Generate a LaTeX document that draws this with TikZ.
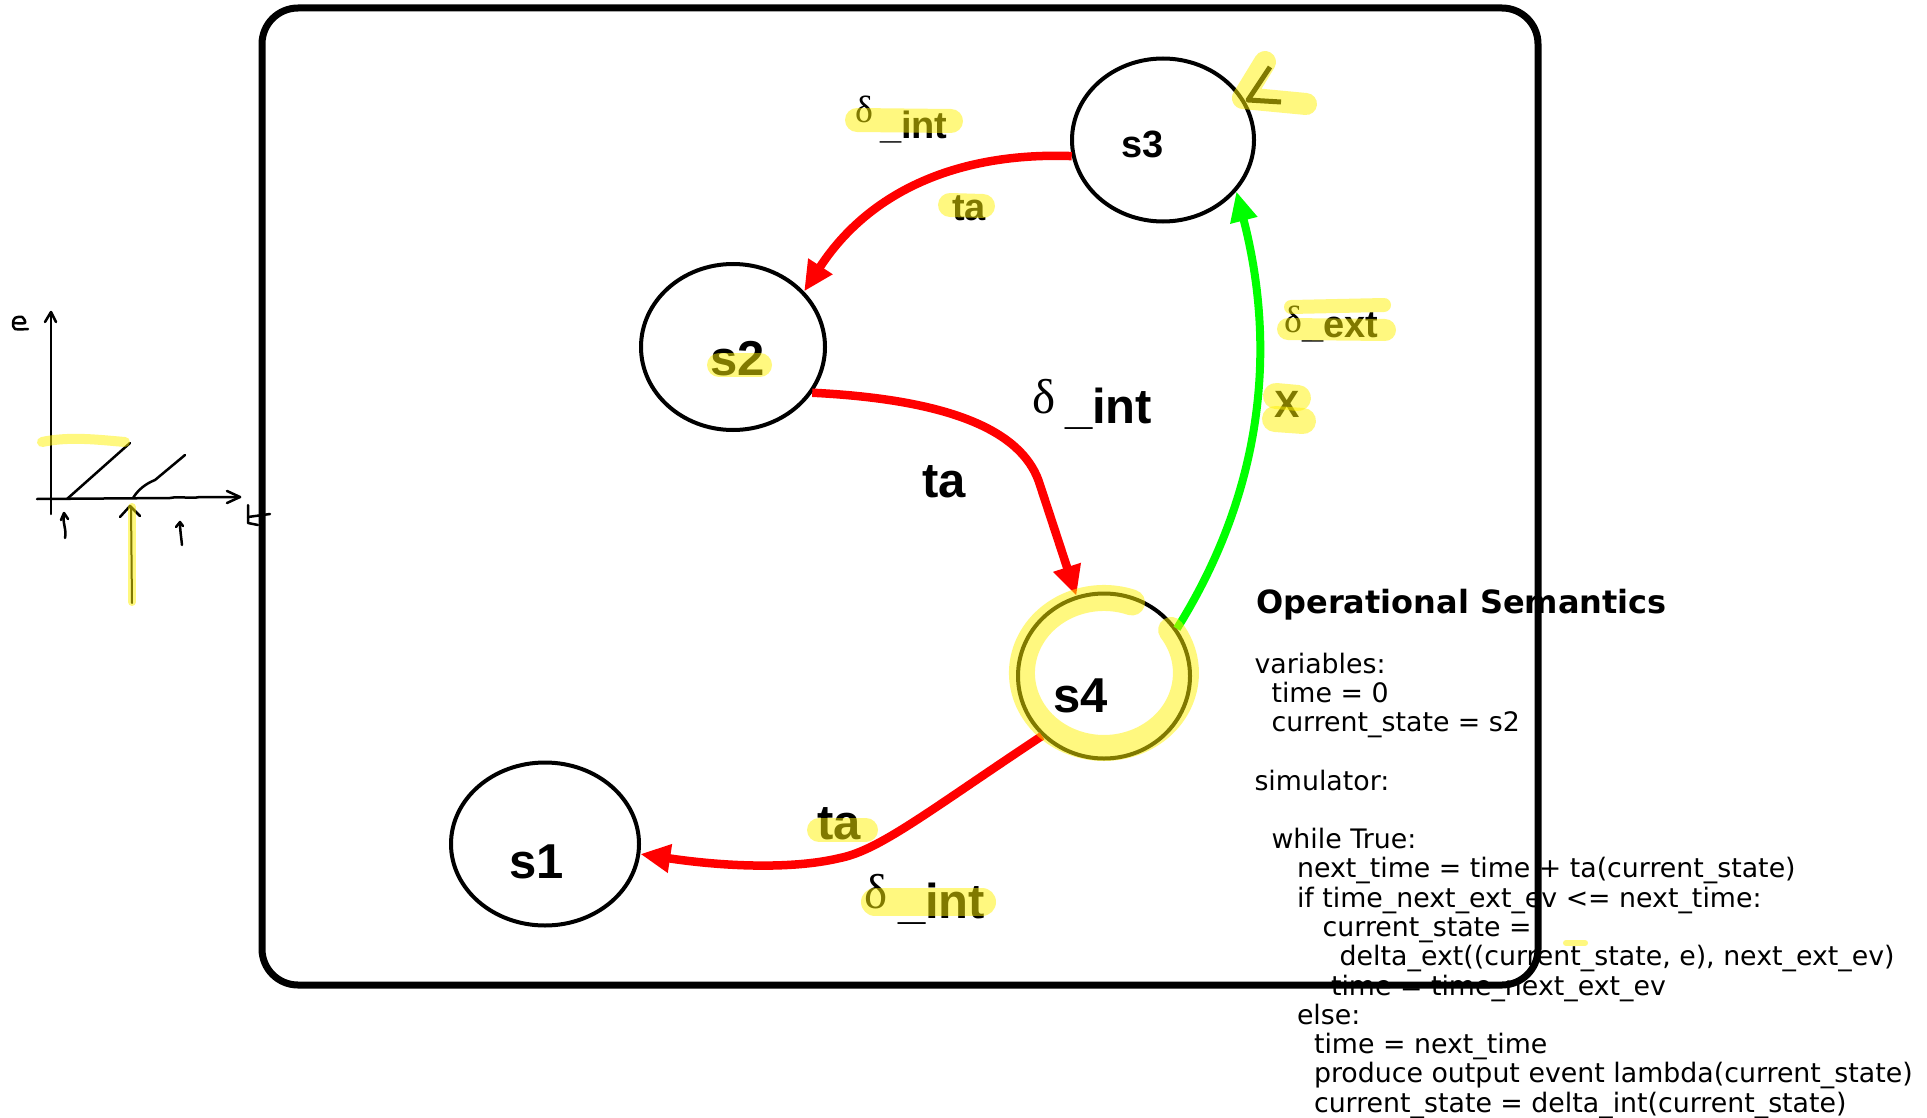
\documentclass[tikz,border=0pt]{standalone}
\usepackage{fontspec}
\usetikzlibrary{shapes.geometric,arrows.meta}
\newfontfamily\lsans{Liberation Sans}
\newfontfamily\lserif{Liberation Serif}
\newfontfamily\dejavu{DejaVu Sans}
\newcommand\dlab[3]{\makebox[#1pt][l]{\raisebox{#2pt}{\lserif\mdseries δ}}\_#3}
\begin{document}
\begin{tikzpicture}[x=1pt,y=-1pt,
  state/.style={ellipse, draw, line width=4pt, inner sep=0pt},
  lbl/.style={anchor=base west, inner sep=0pt, outer sep=0pt},
  bigf/.style={font=\lsans\bfseries\fontsize{49}{56}\selectfont},
  smallf/.style={font=\lsans\bfseries\fontsize{38}{46}\selectfont},
  code/.style={anchor=base west, inner sep=0pt, outer sep=0pt, font=\dejavu\fontsize{26.8}{30}\selectfont},
  redarrow/.style={red, line width=8.5pt, -{Triangle[length=30pt,width=27pt]}},
  greenarrow/.style={green, line width=8pt, -{Triangle[length=30pt,width=26pt]}},
  hl/.style={yellow, opacity=0.5, line cap=round, line join=round},
  hand/.style={black, line width=2.5pt, line cap=round, line join=round}]
\useasboundingbox (0,0) rectangle (1927,1118);
\fill[white] (0,0) rectangle (1927,1118);

% states
\node[state, minimum width=182pt, minimum height=163pt] (s3) at (1163,140) {};
\node[state, minimum width=184pt, minimum height=166pt] (s2) at (733,347) {};
\node[state, minimum width=172pt, minimum height=165pt] (s4) at (1104,676) {};
\node[state, minimum width=188pt, minimum height=163pt] (s1) at (545,844) {};

\node[lbl, smallf] (t3) at (1121,158) {s3};
\node[lbl, bigf] (t2) at (710,375) {s2};
\node[lbl, bigf] (t4) at (1053,712) {s4};
\node[lbl, bigf] (t1) at (509,878) {s1};

% transitions
\draw[redarrow] (s3.190) .. controls (960,152) and (870,190) .. (s2.38);
\draw[redarrow] (s2.330) .. controls (960,400) and (1025,435) .. (1040,485) -- (s4.109);
\draw[redarrow] (s4.224) .. controls (930,810) and (880,850) .. (840,858) .. controls (790,870) and (720,866) .. (s1.354);
\draw[greenarrow] (s4.33) .. controls (1245,520) and (1285,380) .. (s3.325);

% transition labels
\node[lbl, smallf] (d32) at (855,139) {\dlab{25}{16}{int}};
\node[lbl, smallf] (ta32) at (952,220) {ta};
\node[lbl, bigf] (d24) at (1032,423) {\dlab{33}{10}{int}};
\node[lbl, bigf] (ta24) at (922,497) {ta};
\node[lbl, smallf] (d43) at (1284,337) {\dlab{18}{5}{ext}};
\node[lbl, smallf] (x43) at (1274,417) {X};
\node[lbl, bigf] (ta41) at (817,839) {ta};
\node[lbl, bigf] (d41) at (864,918) {\dlab{34}{10}{int}};

% operational semantics
\node[anchor=base west, inner sep=0pt, font=\dejavu\bfseries\fontsize{32}{38}\selectfont] (title) at (1256,613) {Operational Semantics};
\node[code] (c0) at (1254.5,673) {variables:};
\node[code] (c1) at (1271.5,702.3) {time = 0};
\node[code] (c2) at (1271.5,731.5) {current\_state = s2};
\node[code] (c4) at (1254.5,790.1) {simulator:};
\node[code] (c6) at (1271.5,848.6) {while True:};
\node[code] (c7) at (1297,877.9) {next\_time = time + ta(current\_state)};
\node[code] (c8) at (1297,907.2) {if time\_next\_ext\_ev <= next\_time:};
\node[code] (c9) at (1322.7,936.4) {current\_state =};
\node[code] (c10) at (1339.7,965.7) {delta\_ext((current\_state, e), next\_ext\_ev)};
\node[code] (c11) at (1331,995) {time = time\_next\_ext\_ev};
\node[code] (c12) at (1297,1024.2) {else:};
\node[code] (c13) at (1314,1053.5) {time = next\_time};
\node[code] (c14) at (1314,1082.8) {produce output event lambda(current\_state)};
\node[code] (c15) at (1314,1112) {current\_state = delta\_int(current\_state)};

% outer box
\draw[line width=7pt, rounded corners=36pt] (262,8) rectangle (1538,985);

% hand drawn sketch: e over t
\draw[hand] plot[smooth] coordinates {(13,323) (25,323) (22,317) (15,318) (13,323) (15,329) (28,329)};
\draw[hand] (51,514) -- (51,312);
\draw[hand] (45,322) -- (51,312) -- (56,322);
\draw[hand] (37,499) -- (170,498) .. controls (180,496) and (190,499) .. (200,497) -- (240,497);
\draw[hand] (227,491) -- (240,497) -- (227,503);
\draw[hand] (67,499) -- (130,443);
\draw[hand] (133,498) .. controls (138,490) and (145,484) .. (155,480) -- (185,455);
\draw[hand] (248,505) -- (248,523) -- (258,525);
\draw[hand] (248,517) -- (270,514);
\draw[hand] (65,538) .. controls (67,530) and (62,522) .. (64,514);
\draw[hand] (61,520) -- (64,513) -- (68,519);
\draw[hand, line width=2pt] (132,603) -- (131,507);
\draw[hand] (120,517) -- (130,506) -- (140,516);
\draw[hand] (182,545) .. controls (181,535) and (180,530) .. (180,523);
\draw[hand] (176,527) -- (180,522) -- (183,526);

% hand drawn mark at s3
\draw[black, line width=5pt, line join=round] (1270,67) -- (1248,100) -- (1281,102);

% highlighter
\draw[hl, line width=24pt] (857,120) -- (951,121);
\draw[hl, line width=24pt] (950,205) -- (983,206);
\draw[hl, line width=24pt] (719,365) -- (760,365);
\draw[hl, line width=14pt] (1291,307) -- (1384,305);
\draw[hl, line width=22pt] (1288,329) -- (1385,330);
\draw[hl, line width=26pt] (1276,396) -- (1298,398);
\draw[hl, line width=26pt] (1275,419) -- (1303,421);
\draw[hl, line width=26pt] (1132,602.5) arc[start angle=-70, end angle=-395, x radius=82, y radius=75];
\draw[hl, line width=24pt] (819,830) -- (866,830);
\draw[hl, line width=28pt] (875,902) -- (982,902);
\draw[hl, line width=22pt] (1265,62) -- (1243,98) -- (1306,104);
\draw[hl, line width=10pt] (42,442) .. controls (70,436) and (100,440) .. (125,442);
\draw[hl, line width=8pt] (132,507) -- (132,602);
\draw[hl, line width=6pt] (1566,943) -- (1585,943);
\end{tikzpicture}
\end{document}
